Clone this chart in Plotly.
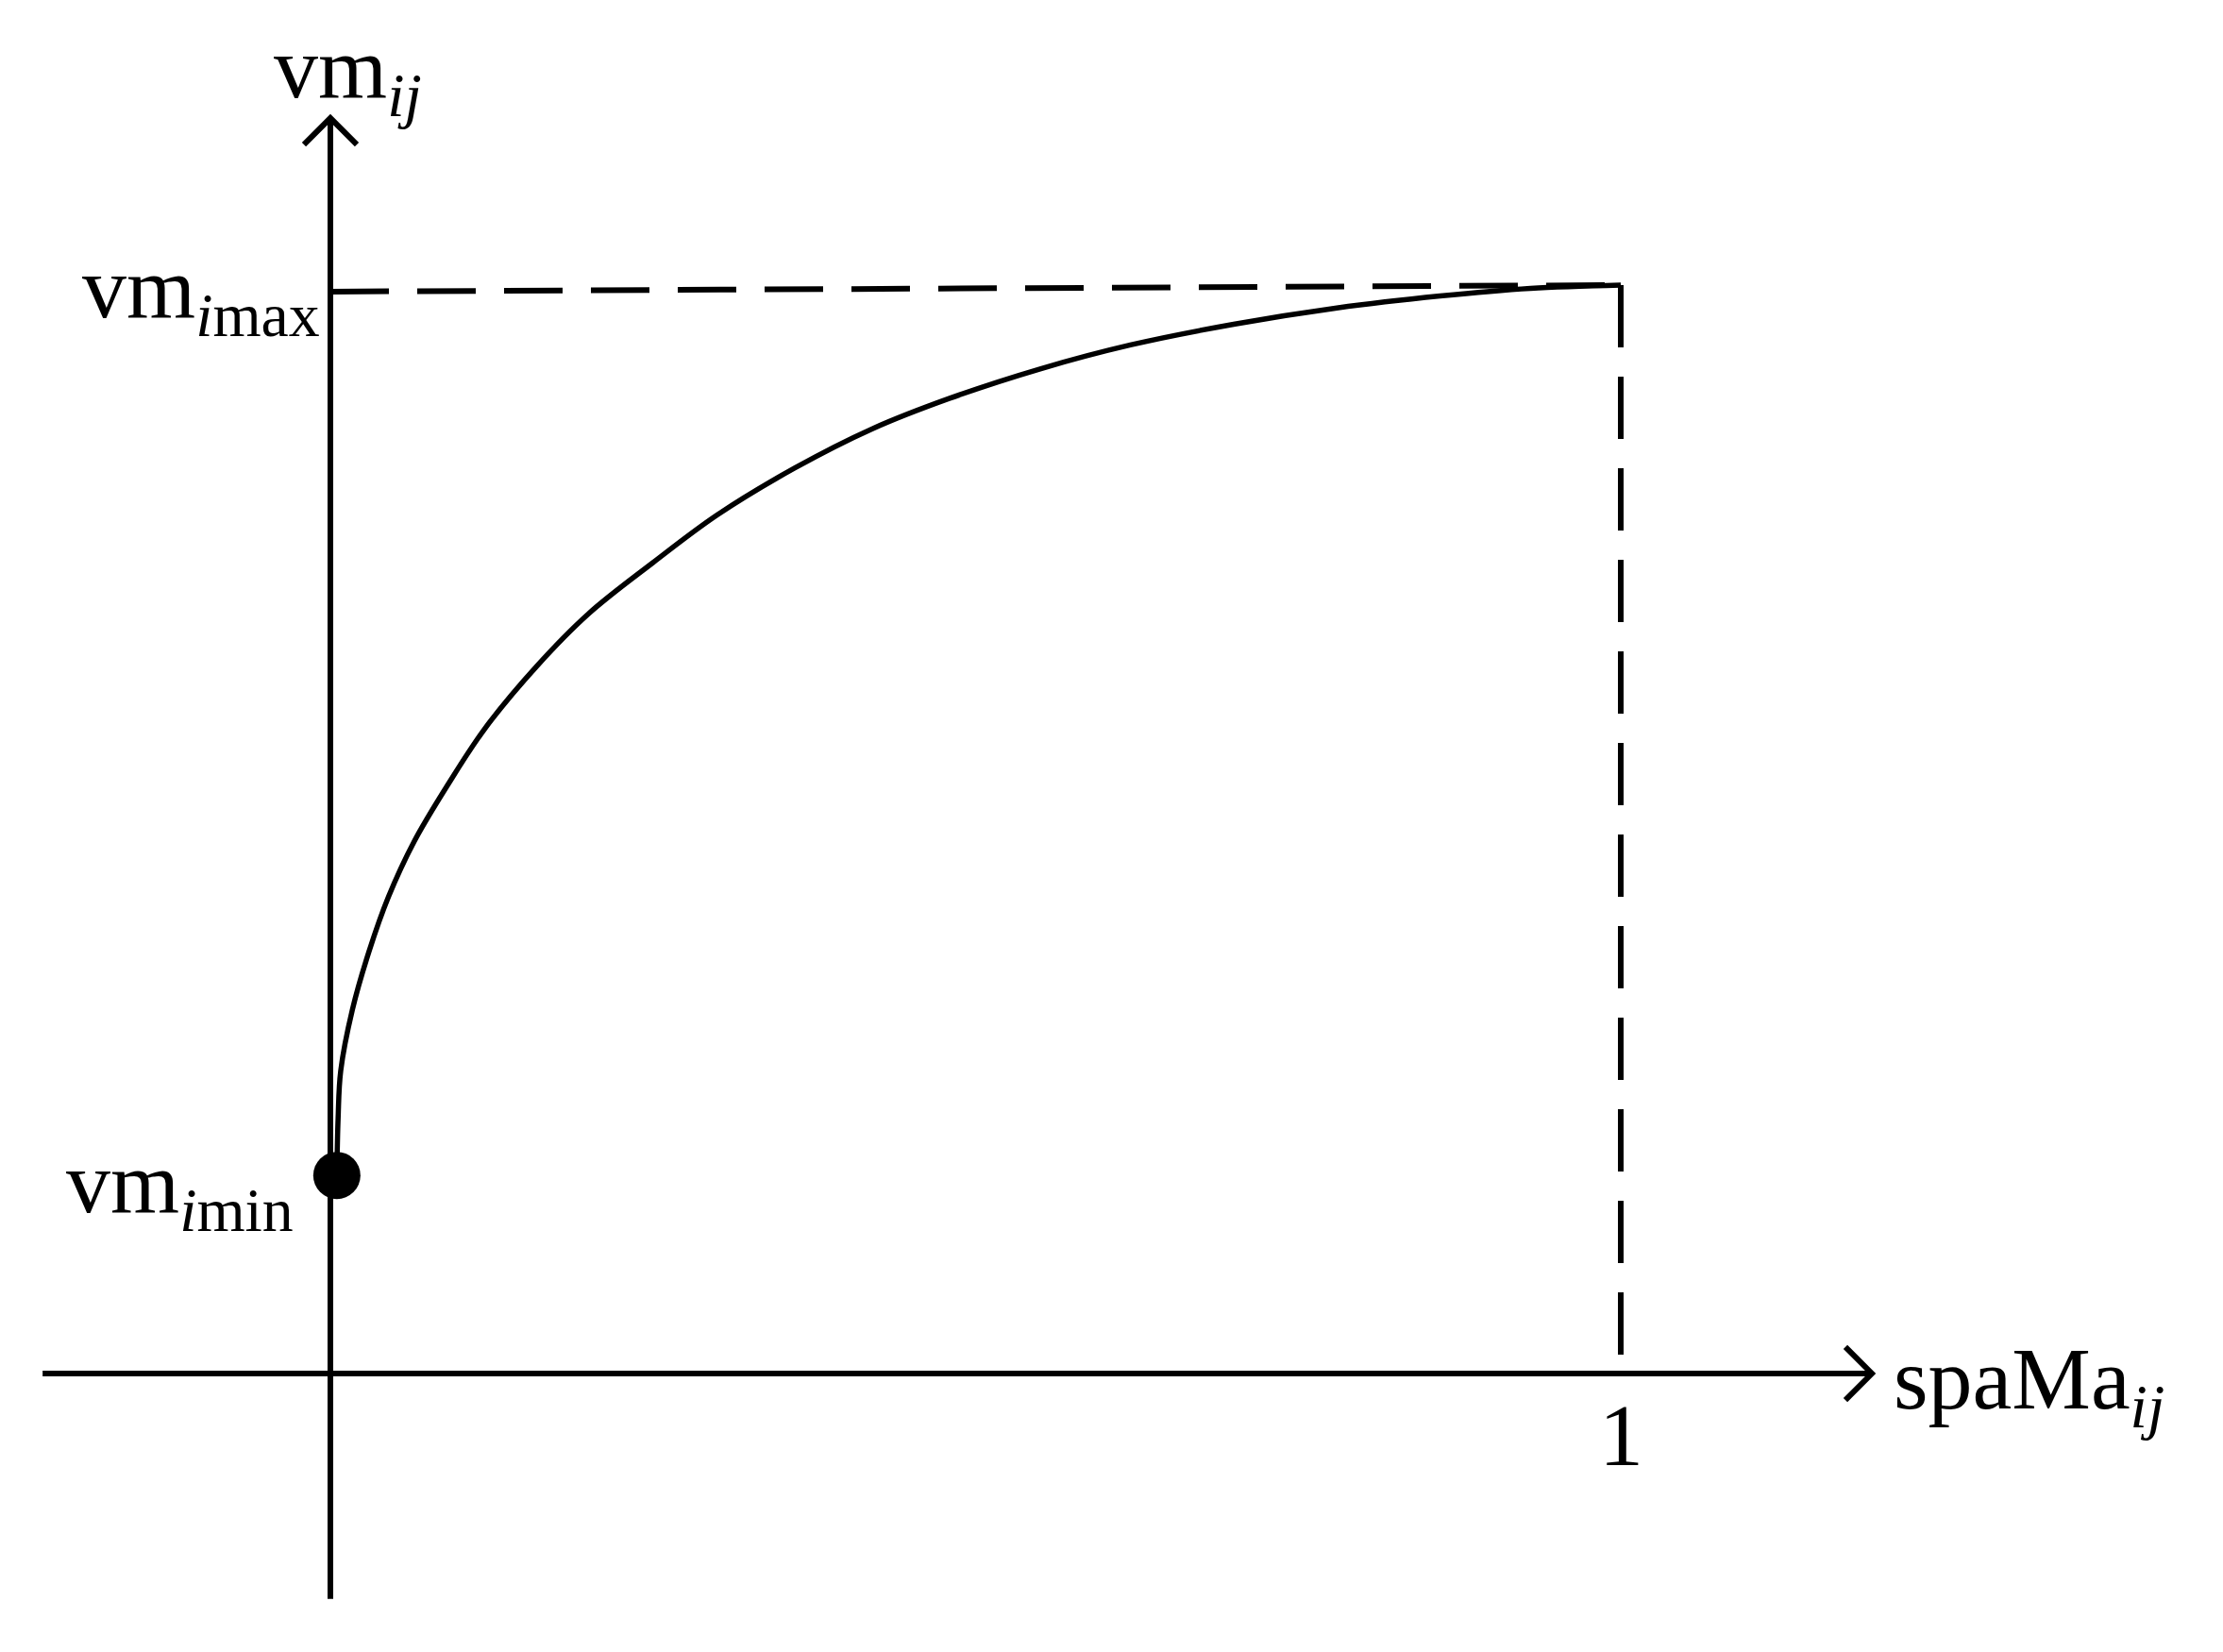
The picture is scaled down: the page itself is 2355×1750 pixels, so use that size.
import plotly.graph_objects as go

# ---------------------------------------------------------------------------
# Data (x: spaMa_ij in [0, 1], y: vm_ij scaled so vm_imax ~ 1)
# ---------------------------------------------------------------------------
SPA = [0.006, 0.008, 0.017, 0.030, 0.045, 0.065, 0.09, 0.12, 0.16, 0.20,
       0.25, 0.30, 0.36, 0.42, 0.48, 0.55, 0.62, 0.70, 0.78, 0.86, 0.93, 1.0]
VM = [0.235, 0.278, 0.334, 0.388, 0.438, 0.489, 0.539, 0.593, 0.650, 0.698,
      0.745, 0.789, 0.832, 0.868, 0.896, 0.923, 0.945, 0.964, 0.979, 0.990,
      0.997, 1.0]

START = (0.005, 0.182)           # vm_imin marker
VM_MAX_LEFT = 0.994
VM_MAX_RIGHT = 1.0

# axis extents (data units)
X_AXIS = [-0.223, 1.1946]
Y_AXIS = [-0.207, 1.1535]

_BLACK = "#000000"
_FONT = "Liberation Serif, Times New Roman, serif"

fig = go.Figure()

# ---- axes lines ----
fig.add_trace(go.Scatter(x=X_AXIS, y=[0, 0], mode="lines",
                         line=dict(color=_BLACK, width=6), hoverinfo="skip"))
fig.add_trace(go.Scatter(x=[0, 0], y=Y_AXIS, mode="lines",
                         line=dict(color=_BLACK, width=6), hoverinfo="skip"))

# ---- open arrow heads ----
ax_dx, ax_dy = 0.0205, 0.0243
fig.add_trace(go.Scatter(
    x=[X_AXIS[1] - ax_dx, X_AXIS[1], X_AXIS[1] - ax_dx],
    y=[ax_dy, 0, -ax_dy], mode="lines",
    line=dict(color=_BLACK, width=6), hoverinfo="skip"))
fig.add_trace(go.Scatter(
    x=[-ax_dx, 0, ax_dx],
    y=[Y_AXIS[1] - ax_dy, Y_AXIS[1], Y_AXIS[1] - ax_dy], mode="lines",
    line=dict(color=_BLACK, width=6), hoverinfo="skip"))

# ---- dashed guide lines ----
fig.add_trace(go.Scatter(x=[0, 1], y=[VM_MAX_LEFT, VM_MAX_RIGHT], mode="lines",
                         line=dict(color=_BLACK, width=6, dash="62px,30px"),
                         hoverinfo="skip"))
fig.add_trace(go.Scatter(x=[1, 1], y=[VM_MAX_RIGHT, 0], mode="lines",
                         line=dict(color=_BLACK, width=6, dash="66px,31px"),
                         hoverinfo="skip"))

# ---- curve ----
fig.add_trace(go.Scatter(x=[START[0]] + SPA, y=[START[1]] + VM, mode="lines",
                         line=dict(color=_BLACK, width=5.5, shape="spline",
                                   smoothing=1.0),
                         hoverinfo="skip"))

# ---- start point ----
fig.add_trace(go.Scatter(x=[START[0]], y=[START[1]], mode="markers",
                         marker=dict(color=_BLACK, size=50), hoverinfo="skip"))

# ---- labels ----
labels = [
    # text, x, y, xanchor
    ("vm<sub><i>ij</i></sub>", -0.045, 1.194, "left"),
    ("vm<sub><i>i</i>max</sub>", -0.0065, 0.992, "right"),
    ("vm<sub><i>i</i>min</sub>", -0.027, 0.170, "right"),
    ("1", 1.0, -0.0565, "center"),
    ("spaMa<sub><i>ij</i></sub>", 1.21, -0.01, "left"),
]
for text, x, y, xa in labels:
    fig.add_annotation(x=x, y=y, text=text, showarrow=False,
                       xanchor=xa, yanchor="middle",
                       font=dict(family=_FONT, size=94, color=_BLACK))

# page body has an 8px margin, so shift ranges to land data on the same pixels
fig.update_layout(
    width=2355, height=1750,
    margin=dict(l=0, r=0, t=0, b=0),
    paper_bgcolor="white", plot_bgcolor="white",
    showlegend=False,
    xaxis=dict(range=[-342 / 1367, 2013 / 1367], visible=False),
    yaxis=dict(range=[-303 / 1153, 1447 / 1153], visible=False),
)

fig.write_html("out.html")
